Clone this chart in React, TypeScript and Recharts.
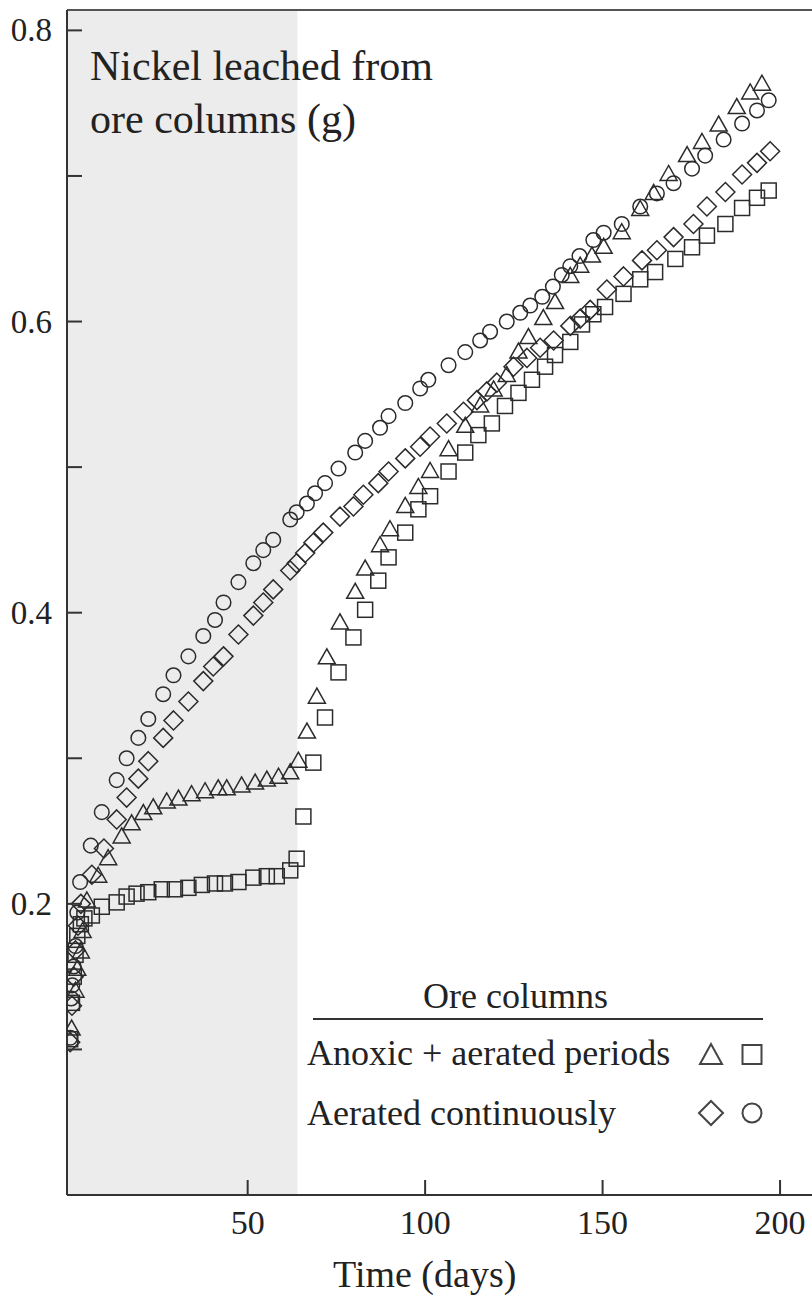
import { ScatterChart, Scatter, XAxis, YAxis, ReferenceArea, ReferenceLine } from "recharts";

// days and grams of Ni, one pair of arrays per column
const triDays = [
  0.4, 1.5, 2, 3, 3.5, 4.7, 7.9, 10.7, 14.5, 17.3, 20.6, 23.4, 27.2, 30.5, 34.2, 38, 41.7, 44.1, 48.3, 52.1,
  55.4, 58.7, 62, 64.3, 66.7, 69.5, 72.3, 76, 80.3, 83.1, 87.3, 90.1, 94.4, 98.1, 101.4, 106.6, 111.3, 115.5,
  119.3, 123, 126.3, 129.1, 133.3, 136.6, 140.9, 143.7, 147, 150.3, 155.4, 160.6, 164.4, 168.6, 173.8, 178,
  182.7, 187.8, 191.6, 194.9,
];
const triValues = [
  0.114, 0.14, 0.155, 0.167, 0.181, 0.202, 0.219, 0.231, 0.246, 0.255, 0.262, 0.266, 0.27, 0.272, 0.275, 0.277,
  0.279, 0.279, 0.281, 0.283, 0.285, 0.287, 0.29, 0.298, 0.318, 0.342, 0.369, 0.393, 0.414, 0.43, 0.446, 0.457,
  0.473, 0.486, 0.497, 0.512, 0.528, 0.542, 0.553, 0.563, 0.579, 0.589, 0.602, 0.613, 0.631, 0.638, 0.645, 0.651,
  0.661, 0.677, 0.688, 0.701, 0.714, 0.723, 0.735, 0.747, 0.757, 0.763,
];

const sqDays = [
  0, 0.5, 1, 1.5, 2, 3, 4, 6.1, 8.9, 13.1, 15.9, 18.7, 22, 25.8, 29.5, 33.3, 37.1, 40.8, 43.6, 47.4, 51.6, 55.4,
  58.2, 62, 63.8, 65.7, 68.5, 71.8, 75.6, 79.8, 83.1, 86.8, 89.7, 94.4, 98.1, 101.4, 106.6, 111.3, 115, 118.8,
  122.5, 126.3, 130.1, 133.8, 136.6, 140.9, 144.2, 147.4, 150.7, 155.9, 160.6, 164.8, 170.5, 175.2, 179.4, 184.6,
  189.3, 193.5, 196.8,
];
const sqValues = [
  0.107, 0.132, 0.15, 0.165, 0.178, 0.186, 0.19, 0.192, 0.198, 0.201, 0.205, 0.207, 0.208, 0.21, 0.21, 0.211,
  0.213, 0.214, 0.214, 0.215, 0.218, 0.219, 0.219, 0.223, 0.231, 0.26, 0.297, 0.328, 0.359, 0.383, 0.402, 0.422,
  0.438, 0.455, 0.471, 0.48, 0.497, 0.51, 0.522, 0.53, 0.542, 0.551, 0.56, 0.569, 0.577, 0.586, 0.598, 0.605,
  0.61, 0.619, 0.629, 0.634, 0.643, 0.651, 0.659, 0.667, 0.678, 0.685, 0.69,
];

const diaDays = [
  0, 0.5, 1, 1.5, 2.2, 3, 6.1, 9.5, 13.1, 15.9, 19.2, 22, 26.2, 29.1, 33.3, 37.5, 40.3, 43.2, 47.4, 51.6, 54.4,
  57.2, 62, 63.8, 66.2, 68.5, 71.3, 76, 79.8, 82.6, 86.8, 89.7, 94.4, 98.6, 101.4, 106.1, 110.8, 114.6, 117.4,
  120.2, 124.9, 128.7, 132.4, 136.2, 140.9, 143.7, 146.5, 151.2, 155.9, 161.1, 165.3, 170, 175.6, 179.4, 184.6,
  189.3, 193.5, 197.2,
];
const diaValues = [
  0.105, 0.13, 0.15, 0.168, 0.185, 0.2, 0.22, 0.238, 0.258, 0.273, 0.286, 0.298, 0.314, 0.326, 0.339, 0.353,
  0.363, 0.37, 0.385, 0.398, 0.407, 0.416, 0.429, 0.434, 0.441, 0.448, 0.455, 0.466, 0.473, 0.481, 0.489, 0.497,
  0.506, 0.514, 0.521, 0.53, 0.538, 0.546, 0.552, 0.558, 0.569, 0.575, 0.582, 0.587, 0.597, 0.602, 0.608, 0.622,
  0.631, 0.642, 0.649, 0.658, 0.667, 0.679, 0.689, 0.701, 0.709, 0.717,
];

const circDays = [
  0, 0.3, 0.6, 1, 1.5, 2, 2.8, 5.8, 8.9, 13.1, 15.9, 19.2, 22, 26.2, 29.1, 33.3, 37.5, 40.8, 43.2, 47.4, 51.6,
  54.4, 57.2, 62, 63.8, 66.7, 69, 71.8, 75.6, 80.3, 83.1, 87.3, 89.7, 94.4, 98.6, 100.9, 106.6, 111.3, 115.5,
  118.3, 123, 126.8, 129.6, 133, 136, 138.5, 140.9, 143.5, 147.4, 150.3, 155.4, 160.6, 165.3, 170, 175.2, 178.9,
  184.1, 189.3, 193.5, 196.8,
];
const circValues = [
  0.108, 0.135, 0.144, 0.157, 0.171, 0.194, 0.215, 0.24, 0.263, 0.285, 0.3, 0.314, 0.327, 0.344, 0.357, 0.37,
  0.384, 0.395, 0.407, 0.421, 0.434, 0.443, 0.45, 0.464, 0.469, 0.475, 0.482, 0.489, 0.499, 0.51, 0.518, 0.527,
  0.535, 0.544, 0.554, 0.56, 0.57, 0.579, 0.587, 0.593, 0.6, 0.606, 0.611, 0.617, 0.624, 0.632, 0.638, 0.645,
  0.656, 0.661, 0.667, 0.679, 0.688, 0.695, 0.705, 0.714, 0.725, 0.736, 0.745, 0.752,
];

const xTicks = [50, 100, 150, 200];
const yTicks = [0.1, 0.2, 0.3, 0.4, 0.5, 0.6, 0.7, 0.8];
const yLabelled = [0.2, 0.4, 0.6, 0.8];
const shadeEnd = 64; // end of the anoxic period

const xDomain = [-0.9, 209];
const yDomain = [0, 0.814];

const toPoints = (days: number[], values: number[]) => days.map((d, i) => ({ d, v: values[i] }));

const INK = "#2b2b2b";
const FONT = "'Liberation Serif', 'Times New Roman', serif";

const Tri = (p: any) => (
  <polygon
    points={`${p.cx},${p.cy - 9} ${p.cx - 8.5},${p.cy + 6} ${p.cx + 8.5},${p.cy + 6}`}
    fill="none"
    stroke={INK}
    strokeWidth={1.5}
  />
);
const Sq = (p: any) => (
  <rect x={p.cx - 7.5} y={p.cy - 7.5} width={15} height={15} fill="none" stroke={INK} strokeWidth={1.5} />
);
const Dia = (p: any) => (
  <polygon
    points={`${p.cx},${p.cy - 9.5} ${p.cx + 9.5},${p.cy} ${p.cx},${p.cy + 9.5} ${p.cx - 9.5},${p.cy}`}
    fill="none"
    stroke={INK}
    strokeWidth={1.5}
  />
);
const Circ = (p: any) => <circle cx={p.cx} cy={p.cy} r={7.3} fill="none" stroke={INK} strokeWidth={1.5} />;

const YTick = (p: any) => {
  const v = p.payload.value;
  const show = yLabelled.some((t) => Math.abs(t - v) < 1e-6);
  return (
    <g>
      <line x1={p.x} y1={p.y} x2={p.x + 15} y2={p.y} stroke="#333" strokeWidth={2} />
      {show && (
        <text x={p.x - 15} y={p.y + 11} textAnchor="end" fontSize={33} fontFamily={FONT} fill="#222">
          {v.toFixed(1)}
        </text>
      )}
    </g>
  );
};

const XTick = (p: any) => (
  <g>
    <line x1={p.x} y1={p.y} x2={p.x} y2={p.y - 15} stroke="#333" strokeWidth={2} />
    <text x={p.x} y={p.y + 39} textAnchor="middle" fontSize={34} fontFamily={FONT} fill="#222">
      {p.payload.value}
    </text>
  </g>
);

export default function App() {
  return (
    <div style={{ position: "relative", width: 812, height: 1302, background: "#fff" }}>
      <style>{"body{margin:0}"}</style>
      <ScatterChart width={812} height={1302} margin={{ top: 10, right: 0, bottom: 0, left: 0 }}>
        <ReferenceArea x1={xDomain[0]} x2={shadeEnd} fill="#ececec" fillOpacity={1} stroke="none" />
        <ReferenceLine y={yDomain[1]} stroke="#555" strokeWidth={2} />
        <XAxis
          type="number"
          dataKey="d"
          domain={xDomain}
          allowDataOverflow
          ticks={xTicks}
          tickSize={0}
          tickMargin={0}
          tickLine={false}
          tick={XTick}
          height={107}
          axisLine={{ stroke: "#333", strokeWidth: 2 }}
        />
        <YAxis
          type="number"
          dataKey="v"
          domain={yDomain}
          allowDataOverflow
          ticks={yTicks}
          tickSize={0}
          tickMargin={0}
          tickLine={false}
          tick={YTick}
          width={67}
          axisLine={{ stroke: "#333", strokeWidth: 2 }}
        />
        <Scatter data={toPoints(circDays, circValues)} shape={Circ} isAnimationActive={false} />
        <Scatter data={toPoints(diaDays, diaValues)} shape={Dia} isAnimationActive={false} />
        <Scatter data={toPoints(sqDays, sqValues)} shape={Sq} isAnimationActive={false} />
        <Scatter data={toPoints(triDays, triValues)} shape={Tri} isAnimationActive={false} />
      </ScatterChart>

      <svg
        width={812}
        height={1302}
        style={{ position: "absolute", left: 0, top: 0, pointerEvents: "none" }}
        fontFamily={FONT}
        fill="#222"
      >
        <text x={90} y={80} fontSize={42}>Nickel leached from</text>
        <text x={90} y={133} fontSize={42}>ore columns (g)</text>

        <text x={423} y={1008} fontSize={36}>Ore columns</text>
        <line x1={313} y1={1019} x2={763} y2={1019} stroke="#333" strokeWidth={2} />
        <text x={307} y={1065} fontSize={36}>Anoxic + aerated periods</text>
        <text x={307} y={1125} fontSize={36}>Aerated continuously</text>
        <polygon points="711,1044 700,1064 722,1064" fill="none" stroke="#444" strokeWidth={2} />
        <rect x={742.5} y={1045} width={19} height={19} fill="none" stroke="#444" strokeWidth={2} />
        <polygon points="711,1101 723,1113 711,1125 699,1113" fill="none" stroke="#444" strokeWidth={2} />
        <circle cx={752} cy={1113} r={9.5} fill="none" stroke="#444" strokeWidth={2} />

        <text x={333} y={1287} fontSize={38}>Time (days)</text>
      </svg>
    </div>
  );
}
